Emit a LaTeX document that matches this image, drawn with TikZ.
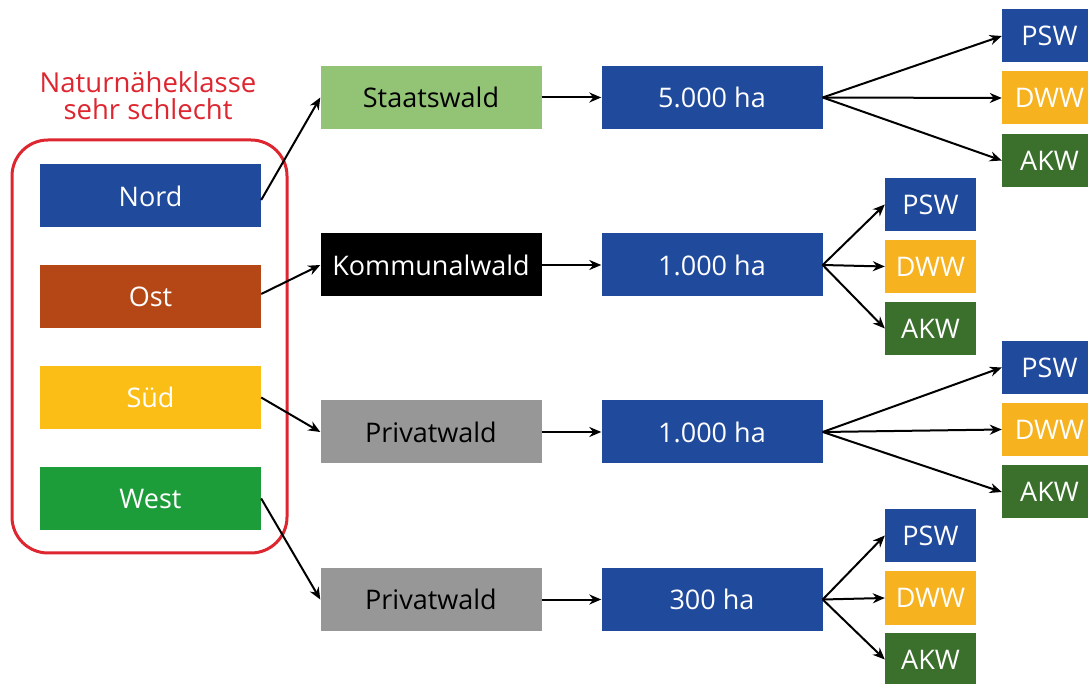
\documentclass[tikz,border=0pt]{standalone}
\usepackage{fontspec}
\setmainfont{Open Sans}
\usetikzlibrary{arrows.meta}
\definecolor{cblue}{RGB}{32,74,156}
\definecolor{cbrown}{RGB}{181,71,23}
\definecolor{cyellow}{RGB}{251,190,22}
\definecolor{cgreen}{RGB}{29,157,58}
\definecolor{clgreen}{RGB}{147,196,118}
\definecolor{cgray}{RGB}{151,151,151}
\definecolor{corange}{RGB}{247,178,32}
\definecolor{cdgreen}{RGB}{58,111,44}
\definecolor{cred}{RGB}{222,38,48}
\begin{document}
\begin{tikzpicture}[x=1pt,y=-1pt,
  box/.style={minimum width=221pt,minimum height=63pt,inner sep=0pt,font=\fontsize{27}{32}\selectfont,text=white},
  sbox/.style={minimum width=91pt,minimum height=53pt,inner sep=0pt,font=\fontsize{27}{32}\selectfont,text=white},
  rbox/.style={sbox,minimum width=95pt},
  arr/.style={-{Stealth[length=12pt,width=10pt]},line width=2pt,black}]
\useasboundingbox (0,0) rectangle (1088,684);
\fill[white] (0,0) rectangle (1088,684);
% left column
\node[box,fill=cblue] (nord) at (150.5,196) {Nord};
\node[box,fill=cbrown] (ost) at (150.5,297) {Ost};
\node[box,fill=cyellow] (sued) at (150.5,397.5) {Süd};
\node[box,fill=cgreen] (west) at (150.5,498.5) {West};
\node[draw=cred,line width=3pt,rounded corners=36pt,minimum width=275pt,minimum height=413pt] (frame) at (149.5,346.5) {};
\node[align=center,text=cred,font=\fontsize{27.5}{27}\selectfont] (lab) at (148,96) {Naturnäheklasse\\sehr schlecht};
% second column
\node[box,fill=clgreen,text=black] (sw) at (431,97.5) {Staatswald};
\node[box,fill=black] (kw) at (431,265) {Kommunalwald};
\node[box,fill=cgray,text=black] (pw1) at (431,432) {Privatwald};
\node[box,fill=cgray,text=black] (pw2) at (431,599.5) {Privatwald};
% third column
\node[box,fill=cblue] (h1) at (712,97.5) {5.000 ha};
\node[box,fill=cblue] (h2) at (712,265) {1.000 ha};
\node[box,fill=cblue] (h3) at (712,432) {1.000 ha};
\node[box,fill=cblue] (h4) at (712,599.5) {300 ha};
% far column (rows 1 and 3)
\node[rbox,fill=cblue] (p1) at (1049.5,36) {PSW};
\node[rbox,fill=corange] (d1) at (1049.5,98) {DWW};
\node[rbox,fill=cdgreen] (a1) at (1049.5,160.5) {AKW};
\node[rbox,fill=cblue] (p3) at (1049.5,367.5) {PSW};
\node[rbox,fill=corange] (d3) at (1049.5,429.5) {DWW};
\node[rbox,fill=cdgreen] (a3) at (1049.5,492) {AKW};
% near column (rows 2 and 4)
\node[sbox,fill=cblue] (p2) at (930.5,204.5) {PSW};
\node[sbox,fill=corange] (d2) at (930.5,266.5) {DWW};
\node[sbox,fill=cdgreen] (a2) at (930.5,328.5) {AKW};
\node[sbox,fill=cblue] (p4) at (930.5,535.5) {PSW};
\node[sbox,fill=corange] (d4) at (930.5,598) {DWW};
\node[sbox,fill=cdgreen] (a4) at (930.5,659.5) {AKW};
% arrows
\draw[arr] ([yshift=-4pt]nord.east) -- (sw.west);
\draw[arr] ([yshift=3pt]ost.east) -- (kw.west);
\draw[arr] (sued.east) -- (pw1.west);
\draw[arr] (west.east) -- (pw2.west);
\draw[arr] (sw) -- (h1);
\draw[arr] (kw) -- (h2);
\draw[arr] (pw1) -- (h3);
\draw[arr] (pw2) -- (h4);
\foreach \h/\p/\d/\a in {h1/p1/d1/a1,h2/p2/d2/a2,h3/p3/d3/a3,h4/p4/d4/a4}{
  \draw[arr] (\h.east) -- (\p.west);
  \draw[arr] (\h.east) -- (\d.west);
  \draw[arr] (\h.east) -- (\a.west);
}
\end{tikzpicture}
\end{document}
